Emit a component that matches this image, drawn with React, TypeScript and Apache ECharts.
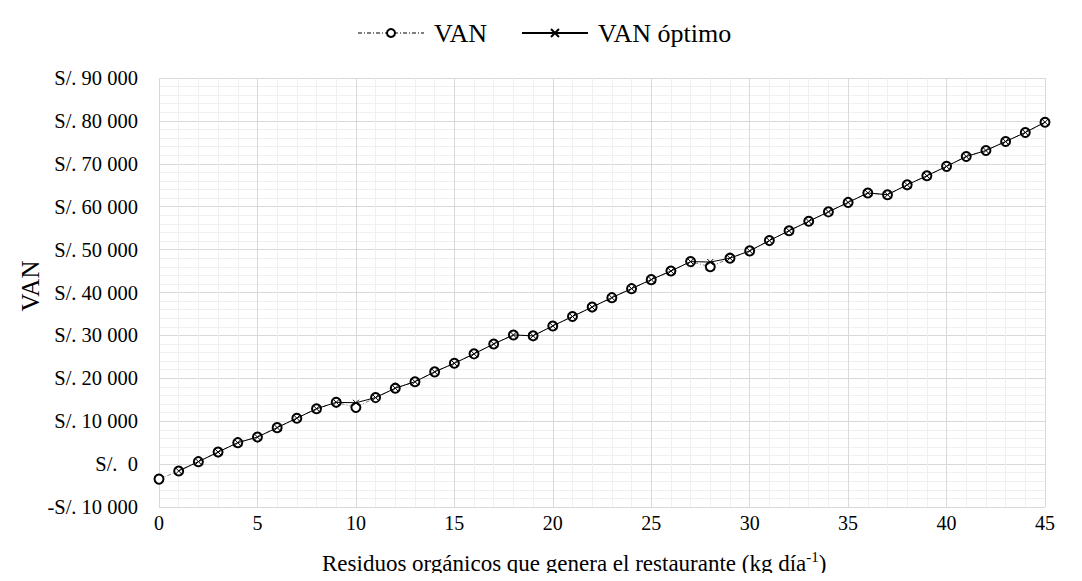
import React, { useEffect, useRef } from "react";
import * as echarts from "echarts";

const xValues = [0,1,2,3,4,5,6,7,8,9,10,11,12,13,14,15,16,17,18,19,20,21,22,23,24,25,26,27,28,29,30,31,32,33,34,35,36,37,38,39,40,41,42,43,44,45];
const van = [-3500,-1600,570,2800,5000,6300,8500,10700,12900,14400,13200,15500,17700,19200,21500,23500,25700,28000,30100,29900,32200,34400,36600,38800,40900,43000,45000,47200,46000,48000,49700,52100,54400,56600,58800,61000,63200,62800,65100,67200,69400,71700,73100,75200,77300,79700];
const vanOptimo = [null,-1600,570,2800,5000,6300,8500,10700,12900,14400,14300,15500,17700,19200,21500,23500,25700,28000,30100,29900,32200,34400,36600,38800,40900,43000,45000,47200,47100,48000,49700,52100,54400,56600,58800,61000,63200,62800,65100,67200,69400,71700,73100,75200,77300,79700];
const seriesNames = ["VAN", "VAN óptimo"];
const xTitle = "Residuos orgánicos que genera el restaurante (kg día";
const xTitleSup = "-1";
const yTitle = "VAN";

const FONT = "Liberation Serif";

function fmtY(v: number): string {
  if (v === 0) return "S/.  0";
  const a = Math.abs(v);
  const s = String(a).replace(/\B(?=(\d{3})+(?!\d))/g, " ");
  return (v < 0 ? "-" : "") + "S/. " + s;
}

export default function App() {
  const ref = useRef<HTMLDivElement>(null);
  useEffect(() => {
    if (!ref.current) return;
    const chart = echarts.init(ref.current, undefined, { renderer: "svg" });
    chart.setOption({
      animation: false,
      backgroundColor: "#fff",
      textStyle: { fontFamily: FONT },
      legend: {
        top: 15,
        left: 352,
        itemWidth: 66,
        itemHeight: 10,
        itemGap: 34,
        textStyle: { fontFamily: FONT, fontSize: 26, color: "#000", padding: [0, 0, 0, 5] },
        data: seriesNames,
      },
      grid: { left: 159, right: 37, top: 78, bottom: 74, containLabel: false },
      graphic: [
        {
          type: "text",
          left: 322,
          top: 549,
          style: {
            text: "{a|" + xTitle + "}{s|" + xTitleSup + "}{a|)}",
            rich: {
              a: { fontFamily: FONT, fontSize: 23, fill: "#000", verticalAlign: "bottom", lineHeight: 26 },
              s: { fontFamily: FONT, fontSize: 15, fill: "#000", verticalAlign: "top", lineHeight: 26 },
            },
          },
        },
        {
          type: "text",
          x: 30,
          y: 286,
          rotation: Math.PI / 2,
          style: {
            text: yTitle,
            fontFamily: FONT,
            fontSize: 25,
            fill: "#000",
            align: "center",
            verticalAlign: "middle",
          },
        },
      ],
      xAxis: {
        type: "value",
        min: 0,
        max: 45,
        interval: 5,
        axisLine: { show: false },
        axisTick: { show: false },
        axisLabel: { fontFamily: FONT, fontSize: 20, color: "#000", margin: 6 },
        splitLine: { show: true, lineStyle: { color: "#d9d9d9", width: 1 } },
        minorTick: { show: false, splitNumber: 5 },
        minorSplitLine: { show: true, lineStyle: { color: "#f0f0f0", width: 1 } },
      },
      yAxis: {
        type: "value",
        min: -10000,
        max: 90000,
        interval: 10000,
        axisLine: { show: false },
        axisTick: { show: false },
        axisLabel: { fontFamily: FONT, fontSize: 20.5, color: "#000", margin: 21, formatter: fmtY },
        splitLine: { show: true, lineStyle: { color: "#d9d9d9", width: 1 } },
        minorTick: { show: false, splitNumber: 5 },
        minorSplitLine: { show: true, lineStyle: { color: "#f0f0f0", width: 1 } },
      },
      series: [
        {
          name: seriesNames[0],
          type: "line",
          data: xValues.map((x, i) => [x, van[i]]),
          symbol: "emptyCircle",
          symbolSize: 9,
          itemStyle: { color: "#000", borderColor: "#000", borderWidth: 1 },
          lineStyle: { color: "#7f7f7f", width: 1, type: [4, 2, 1, 2] },
          z: 2,
        },
        {
          name: seriesNames[1],
          type: "line",
          data: xValues.map((x, i) => [x, vanOptimo[i]]),
          symbol: "path://M0,0L10,10M10,0L0,10",
          symbolSize: 6,
          itemStyle: { color: "none", borderColor: "#000", borderWidth: 1 },
          lineStyle: { color: "#000", width: 1 },
          z: 3,
        },
      ],
    });
    return () => chart.dispose();
  }, []);
  return <div ref={ref} style={{ width: 1082, height: 581, margin: -8 }} />;
}
